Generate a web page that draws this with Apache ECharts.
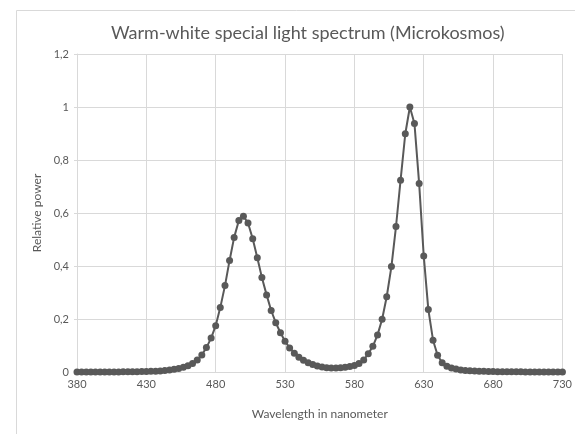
<!DOCTYPE html>
<html>
<head>
<meta charset="utf-8">
<script src="https://cdn.jsdelivr.net/npm/echarts@6/dist/echarts.min.js"></script>
<style>
  html, body { margin: 0; padding: 0; background: #fff; }
  #main { width: 575px; height: 434px; }
</style>
</head>
<body>
<div id="main"></div>
<script>
// wavelengths in nm (one point every 3.33 nm)
const wavelengths = [
  380, 383.3, 386.7, 390, 393.3, 396.7, 400, 403.3, 406.7, 410,
  413.3, 416.7, 420, 423.3, 426.7, 430, 433.3, 436.7, 440, 443.3,
  446.7, 450, 453.3, 456.7, 460, 463.3, 466.7, 470, 473.3, 476.7,
  480, 483.3, 486.7, 490, 493.3, 496.7, 500, 503.3, 506.7, 510,
  513.3, 516.7, 520, 523.3, 526.7, 530, 533.3, 536.7, 540, 543.3,
  546.7, 550, 553.3, 556.7, 560, 563.3, 566.7, 570, 573.3, 576.7,
  580, 583.3, 586.7, 590, 593.3, 596.7, 600, 603.3, 606.7, 610,
  613.3, 616.7, 620, 623.3, 626.7, 630, 633.3, 636.7, 640, 643.3,
  646.7, 650, 653.3, 656.7, 660, 663.3, 666.7, 670, 673.3, 676.7,
  680, 683.3, 686.7, 690, 693.3, 696.7, 700, 703.3, 706.7, 710,
  713.3, 716.7, 720, 723.3, 726.7, 730
]
// relative power
const relPower = [
  0.000, 0.000, 0.000, 0.000, 0.000, 0.000, 0.000, 0.000, 0.000, 0.000,
  0.001, 0.001, 0.001, 0.001, 0.002, 0.002, 0.003, 0.003, 0.004, 0.006,
  0.008, 0.010, 0.013, 0.018, 0.024, 0.032, 0.045, 0.064, 0.092, 0.128,
  0.175, 0.243, 0.326, 0.421, 0.508, 0.572, 0.588, 0.562, 0.503, 0.431,
  0.357, 0.291, 0.232, 0.186, 0.148, 0.116, 0.091, 0.071, 0.056, 0.044,
  0.035, 0.028, 0.023, 0.019, 0.016, 0.015, 0.015, 0.016, 0.018, 0.021,
  0.025, 0.032, 0.045, 0.069, 0.097, 0.140, 0.199, 0.284, 0.398, 0.549,
  0.724, 0.899, 1.000, 0.938, 0.711, 0.438, 0.236, 0.120, 0.063, 0.035,
  0.022, 0.015, 0.011, 0.008, 0.006, 0.005, 0.004, 0.003, 0.003, 0.002,
  0.002, 0.001, 0.001, 0.001, 0.001, 0.001, 0.001, 0.000, 0.000, 0.000,
  0.000, 0.000, 0.000, 0.000, 0.000, 0.000
]

const textColor = '#595959'
const gridColor = '#d9d9d9'
const fontFamily = 'Lato, "Noto Sans", sans-serif'

const chart = echarts.init(document.getElementById('main'))

const option = {
  animation: false,
  textStyle: { fontFamily: fontFamily },
  graphic: [
    {
      // chart area border: only the top and left edges are inside the picture
      type: 'polyline',
      shape: { points: [[16.5, 440], [16.5, 10.5], [580, 10.5]] },
      style: { fill: 'none', stroke: gridColor, lineWidth: 1 },
      silent: true,
    },
  ],
  title: {
    text: 'Warm-white special light spectrum (Microkosmos)',
    left: 106,
    top: 19,
    textStyle: { color: textColor, fontSize: 18, fontWeight: 'normal', fontFamily: fontFamily },
  },
  grid: {
    left: 77,
    right: 10,
    top: 54,
    bottom: 62,
  },
  xAxis: {
    type: 'value',
    min: 380,
    max: 730,
    interval: 50,
    name: 'Wavelength in nanometer',
    nameLocation: 'middle',
    nameGap: 36,
    nameTextStyle: { color: textColor, fontSize: 12 },
    axisLine: { lineStyle: { color: gridColor } },
    axisTick: { show: false },
    axisLabel: { color: textColor, fontSize: 11, margin: 7 },
    splitLine: { show: true, lineStyle: { color: gridColor } },
  },
  yAxis: {
    type: 'value',
    min: 0,
    max: 1.2,
    interval: 0.2,
    name: 'Relative power',
    nameLocation: 'middle',
    nameGap: 30,
    nameTextStyle: { color: textColor, fontSize: 12 },
    axisLine: { show: true, lineStyle: { color: gridColor } },
    axisTick: { show: true, length: 3, lineStyle: { color: gridColor } },
    axisLabel: {
      color: textColor,
      fontSize: 11,
      margin: 8,
      formatter: function (v) {
        return String(Math.round(v * 10) / 10).replace('.', ',')
      },
    },
    splitLine: { show: true, lineStyle: { color: gridColor } },
  },
  series: [
    {
      type: 'line',
      data: wavelengths.map((w, i) => [w, relPower[i]]),
      symbol: 'circle',
      symbolSize: 7,
      showAllSymbol: true,
      lineStyle: { color: '#595959', width: 2 },
      itemStyle: { color: '#595959' },
    },
  ],
}

chart.setOption(option)
</script>
</body>
</html>
